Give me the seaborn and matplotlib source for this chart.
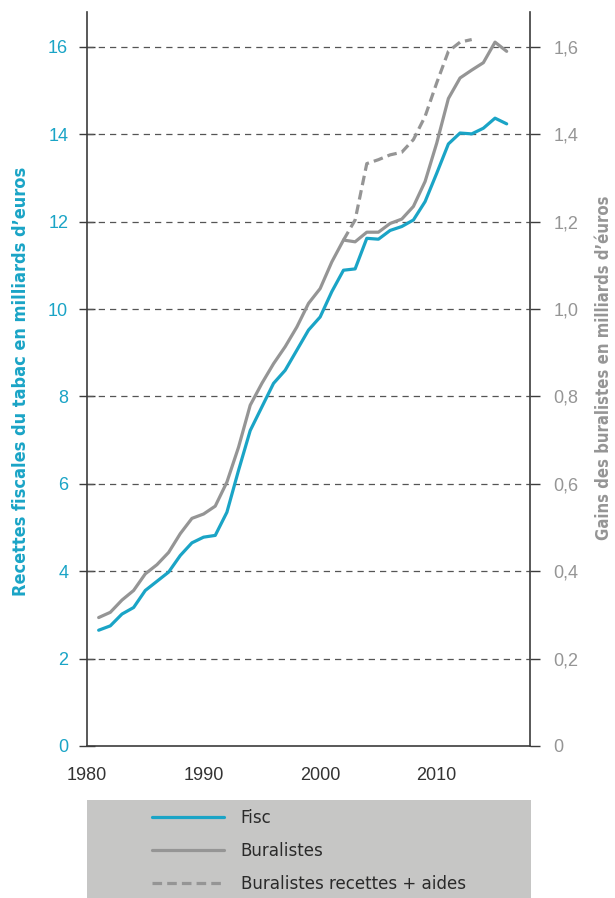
import matplotlib
matplotlib.use("Agg")
import matplotlib.pyplot as plt
from matplotlib.lines import Line2D
from matplotlib.patches import Rectangle
import seaborn as sns
import pandas as pd

# Data
years = list(range(1981, 2017))
fisc = [2.65, 2.75, 3.02, 3.17, 3.56, 3.77, 3.98, 4.36, 4.65, 4.78, 4.82, 5.35,
        6.31, 7.22, 7.76, 8.30, 8.60, 9.06, 9.52, 9.82, 10.40, 10.89, 10.92, 11.62,
        11.60, 11.80, 11.89, 12.04, 12.46, 13.11, 13.78, 14.03, 14.01, 14.14, 14.37, 14.24]
buralistes = [0.294, 0.306, 0.334, 0.356, 0.394, 0.415, 0.443, 0.486, 0.521, 0.531, 0.549, 0.604,
              0.684, 0.780, 0.830, 0.875, 0.914, 0.959, 1.013, 1.047, 1.108, 1.158, 1.154, 1.176,
              1.176, 1.196, 1.206, 1.235, 1.292, 1.380, 1.482, 1.529, 1.547, 1.564, 1.611, 1.590]
years_aides = list(range(2002, 2014))
buralistes_aides = [1.158, 1.204, 1.333, 1.342, 1.353, 1.359, 1.388, 1.441, 1.518, 1.590, 1.611, 1.617]

left_ticks = [0, 2, 4, 6, 8, 10, 12, 14, 16]
right_ticks = [0, 0.2, 0.4, 0.6, 0.8, 1.0, 1.2, 1.4, 1.6]
right_labels = ["0", "0,2", "0,4", "0,6", "0,8", "1,0", "1,2", "1,4", "1,6"]
x_ticks = [1980, 1990, 2000, 2010]
legend_labels = ["Fisc", "Buralistes", "Buralistes recettes + aides"]

CYAN = "#1aa4c6"
GREY = "#959595"
DARK = "#3c3c3c"

df = pd.DataFrame({"annee": years, "fisc": fisc, "buralistes": buralistes})
df_aides = pd.DataFrame({"annee": years_aides, "aides": buralistes_aides})

sns.set_style("white")
plt.rcParams["font.family"] = ["Liberation Sans", "DejaVu Sans"]
narrow = ["DejaVu Sans"]

fig = plt.figure(figsize=(6.15, 8.98), dpi=100)
ax = fig.add_axes([87 / 615, 1 - 746 / 898, 443 / 615, 734 / 898])
ax2 = ax.twinx()

sns.lineplot(data=df, x="annee", y="fisc", ax=ax, color=CYAN, linewidth=2.3, legend=False, zorder=3)
sns.lineplot(data=df, x="annee", y="buralistes", ax=ax2, color=GREY, linewidth=2.3, legend=False, zorder=3)
sns.lineplot(data=df_aides, x="annee", y="aides", ax=ax2, color=GREY, linewidth=2.3,
             linestyle=(0, (3, 1.6)), legend=False, zorder=3)

ax.set_xlim(1980, 2018)
ax.set_ylim(0, 16.8)
ax2.set_ylim(0, 1.68)
ax.set_yticks(left_ticks)
ax.set_xticks(x_ticks)
ax2.set_yticks(right_ticks)
ax2.set_yticklabels(right_labels)

for y in left_ticks[1:]:
    ax.axhline(y, color="#555555", linewidth=0.9, linestyle=(0, (5, 4)), zorder=1)

for a in (ax, ax2):
    for s in a.spines.values():
        s.set_color(DARK)
        s.set_linewidth(1.2)
    a.spines["top"].set_visible(False)
ax.spines["right"].set_visible(False)
ax2.spines["left"].set_visible(False)
ax2.spines["bottom"].set_visible(False)

ax.tick_params(axis="y", direction="inout", length=11, width=1, color=DARK,
               labelcolor=CYAN, labelsize=13, pad=8)
ax.tick_params(axis="x", direction="out", length=7, width=1, color=DARK,
               labelcolor="#333333", labelsize=13, pad=8)
ax2.tick_params(axis="y", direction="out", length=7, width=1, color=DARK,
                labelcolor=GREY, labelsize=13, pad=10)
ax.set_xlabel("")
ax.set_ylabel("Recettes fiscales du tabac en milliards d’euros", color=CYAN,
              fontsize=13, fontweight="bold", family=narrow, fontstretch="condensed")
ax.yaxis.set_label_coords(-0.129, 0.497)
ax2.set_ylabel("Gains des buralistes en milliards d’éuros", color=GREY,
               fontsize=12, fontweight="bold", family=narrow, fontstretch="condensed", rotation=90)
ax2.yaxis.set_label_coords(1.147, 0.515)

# Legend panel
fig.patches.append(Rectangle((87 / 615, 0), 444 / 615, 98 / 898, transform=fig.transFigure,
                             facecolor="#c6c6c5", edgecolor="none", zorder=0))
handles = [Line2D([], [], color=CYAN, linewidth=2.3),
           Line2D([], [], color=GREY, linewidth=2.3),
           Line2D([], [], color=GREY, linewidth=2.3, linestyle=(0, (3, 1.6)))]
fig.legend(handles, legend_labels, loc="upper left", bbox_to_anchor=(152 / 615, 1 - 809 / 898),
           frameon=False, borderpad=0, borderaxespad=0, handlelength=3.9, handletextpad=0.9,
           labelspacing=0.82, prop={"family": narrow, "size": 13.3, "stretch": "condensed"},
           labelcolor="#2a2a2a")

fig.savefig("out.png", dpi=100)
